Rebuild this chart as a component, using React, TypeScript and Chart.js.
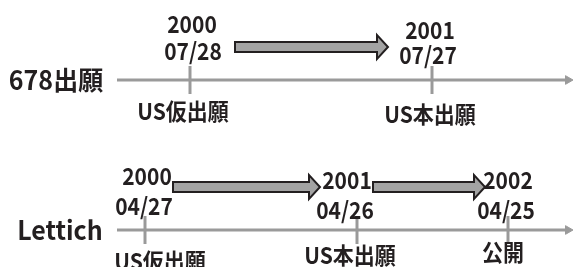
import React, { useEffect, useRef } from "react";
import { Chart, registerables } from "chart.js";

Chart.register(...registerables);

// Diagram space (x: timeline position, y: vertical level, top = 0)
const X_RANGE = [0, 574];
const Y_RANGE = [0, 267];

// Rows
const rowLabels = ["678出願", "Lettich"];
const rowLevel = [80, 230];
const axisStart = [117, 117];
const axisEnd = [568, 568];

// Events
const eventRow = [0, 0, 1, 1, 1];
const eventPos = [190, 432, 145, 357, 508];
const eventYear = ["2000", "2001", "2000", "2001", "2002"];
const eventDate = ["07/28", "07/27", "04/27", "04/26", "04/25"];
const eventName = ["US仮出願", "US本出願", "US仮出願", "US本出願", "公開"];

// Block arrows between events
const arrowFrom = [235, 173, 373];
const arrowTo = [388, 320, 485];

// ---- layout (label anchors, not data) ----
const rowLabelX = [56, 60];
const arrowLevel = [47, 187, 187];
const yearX = [192, 430, 147, 347, 508];
const yearY = [24, 30, 176, 180, 180];
const dateX = [193, 428, 144, 345, 506];
const dateY = [51, 55, 206, 210, 210];
const nameX = [183, 430, 160, 350, 503];
const nameY = [111, 114, 261, 255, 252];

const TEXT = "#231f20";
const AXIS = "#9a9a9a";
const ARROW_FILL = "#a3a3a3";
const FONT = '"Noto Sans CJK JP", "Noto Sans", sans-serif';

function stretchedText(ctx: any, txt: string, x: number, y: number, sy: number) {
  ctx.save();
  ctx.translate(x, y);
  ctx.scale(1, sy);
  ctx.fillText(txt, 0, 0);
  ctx.restore();
}

const diagramPlugin = {
  id: "diagram",
  afterDatasetsDraw(chart: any) {
    const { ctx, scales } = chart;
    const xs = scales.x;
    const ys = scales.y;
    ctx.save();
    // block arrows
    for (let i = 0; i < arrowFrom.length; i++) {
      const x0 = xs.getPixelForValue(arrowFrom[i]);
      const x1 = xs.getPixelForValue(arrowTo[i]);
      const y = ys.getPixelForValue(arrowLevel[i]);
      const sh = 5;
      const hh = 12;
      const hl = 11;
      ctx.beginPath();
      ctx.moveTo(x0, y - sh);
      ctx.lineTo(x1 - hl, y - sh);
      ctx.lineTo(x1 - hl, y - hh);
      ctx.lineTo(x1, y);
      ctx.lineTo(x1 - hl, y + hh);
      ctx.lineTo(x1 - hl, y + sh);
      ctx.lineTo(x0, y + sh);
      ctx.closePath();
      ctx.fillStyle = ARROW_FILL;
      ctx.fill();
      ctx.lineWidth = 2;
      ctx.strokeStyle = TEXT;
      ctx.lineJoin = "miter";
      ctx.stroke();
    }
    ctx.fillStyle = TEXT;
    ctx.textBaseline = "middle";
    ctx.textAlign = "center";
    // row labels
    ctx.font = `bold 25px ${FONT}`;
    rowLabels.forEach((lab, r) => {
      stretchedText(ctx, lab, xs.getPixelForValue(rowLabelX[r]), ys.getPixelForValue(rowLevel[r]), 1.05);
    });
    // event texts
    ctx.font = `bold 21px ${FONT}`;
    for (let i = 0; i < eventPos.length; i++) {
      stretchedText(ctx, eventYear[i], xs.getPixelForValue(yearX[i]), ys.getPixelForValue(yearY[i]), 1.12);
      stretchedText(ctx, eventDate[i], xs.getPixelForValue(dateX[i]), ys.getPixelForValue(dateY[i]), 1.12);
      stretchedText(ctx, eventName[i], xs.getPixelForValue(nameX[i]), ys.getPixelForValue(nameY[i]), 1.08);
    }
    ctx.restore();
  },
};

export default function App() {
  const ref = useRef<HTMLCanvasElement>(null);
  useEffect(() => {
    if (!ref.current) return;
    const datasets: any[] = [];
    rowLevel.forEach((lv, r) => {
      datasets.push({
        type: "line",
        data: [
          { x: axisStart[r], y: lv },
          { x: axisEnd[r], y: lv },
        ],
        borderColor: AXIS,
        borderWidth: 3,
        pointRadius: [0, 5],
        pointStyle: "triangle",
        pointRotation: 90,
        pointBackgroundColor: AXIS,
        pointBorderColor: AXIS,
        pointBorderWidth: 1,
      });
    });
    datasets.push({
      type: "scatter",
      data: eventPos.map((p, i) => ({ x: p, y: rowLevel[eventRow[i]] })),
      pointStyle: "line",
      pointRotation: 90,
      pointRadius: 14,
      pointBorderColor: AXIS,
      pointBorderWidth: 3,
    });
    const chart = new Chart(ref.current, {
      type: "scatter",
      data: { datasets },
      options: {
        animation: false,
        responsive: false,
        devicePixelRatio: 1,
        layout: { padding: 0, autoPadding: false },
        plugins: { legend: { display: false }, tooltip: { enabled: false } },
        events: [],
        scales: {
          x: { type: "linear", display: false, min: X_RANGE[0], max: X_RANGE[1] },
          y: { type: "linear", display: false, reverse: true, min: Y_RANGE[0], max: Y_RANGE[1] },
        },
      },
      plugins: [diagramPlugin],
    } as any);
    return () => chart.destroy();
  }, []);
  return (
    <div style={{ position: "fixed", left: 0, top: 0, width: 574, height: 267, background: "#fff" }}>
      <canvas ref={ref} width={574} height={267} style={{ display: "block" }} />
    </div>
  );
}
